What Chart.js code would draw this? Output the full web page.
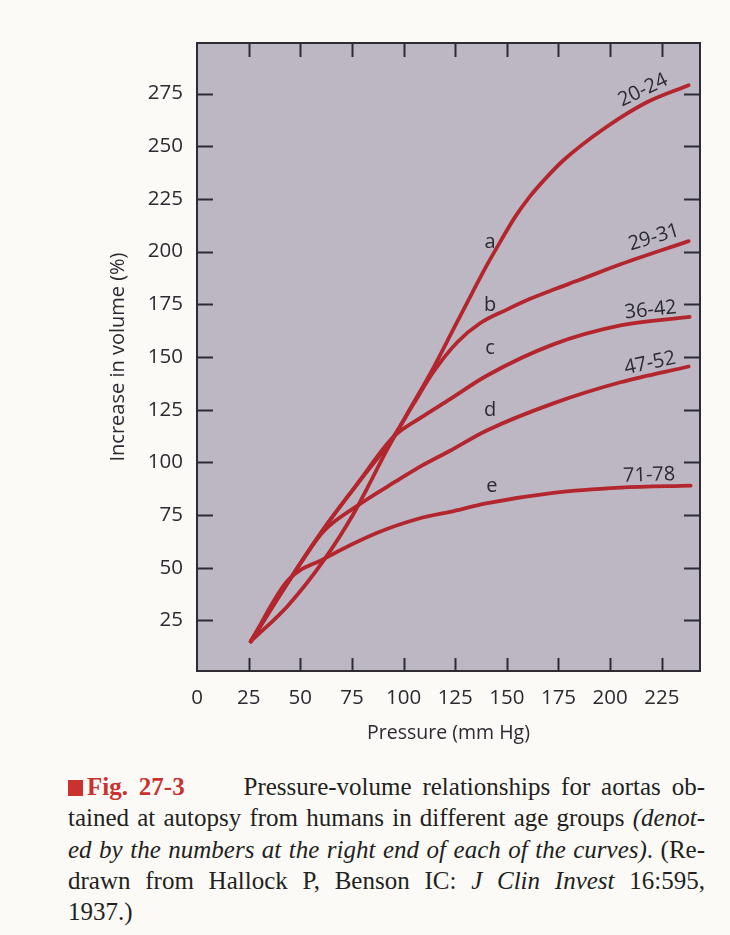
<!DOCTYPE html>
<html>
<head>
<meta charset="utf-8">
<script src="https://cdn.jsdelivr.net/npm/chart.js@4.4.1/dist/chart.umd.min.js"></script>
<style>
  html, body { margin: 0; padding: 0; background: #fbfaf7; }
  body { width: 730px; height: 935px; position: relative; overflow: hidden; }
  #aorta { position: absolute; left: 0; top: 0; }
  .caption {
    position: absolute; left: 68px; top: 771px; width: 637px;
    font-family: "Liberation Serif", "Times New Roman", serif;
    font-size: 25px; line-height: 31.3px; color: #231f20;
  }
  .caption div { text-align: justify; text-align-last: justify; }
  .caption div.last { text-align-last: left; }
  .caption .sq { display: inline-block; width: 15px; height: 16px; background: #c9322f; margin-right: 4px; vertical-align: -1px; }
  .caption .fig { color: #c9322f; font-weight: bold; margin-right: 48px; }
</style>
</head>
<body>
<canvas id="aorta" width="730" height="760"></canvas>
<div class="caption">
  <div><span class="sq"></span><span class="fig">Fig.&nbsp;27-3</span> Pressure-volume relationships for aortas ob-</div>
  <div>tained at autopsy from humans in different age groups <i>(denot-</i></div>
  <div><i>ed by the numbers at the right end of each of the curves)</i>. (Re-</div>
  <div>drawn from Hallock P, Benson IC: <i>J Clin Invest</i> 16:595,</div>
  <div class="last">1937.)</div>
</div>
<script>
// pressure (mm Hg) and % increase in volume for each age group
const pressure2024 = [26, 44, 61, 76, 82, 92, 102, 114.5, 124, 133, 140, 147, 154, 161, 169, 177, 198, 218, 238];
const volume2024 = [15, 32, 53, 76, 87, 106, 123.5, 145, 163, 180, 193, 205, 216.5, 226, 235, 243, 259, 271, 279];

const pressure2931 = [26, 44, 61, 77, 95, 105, 114.5, 126, 137, 150, 161, 174, 185, 205, 238];
const volume2931 = [15, 43, 68, 89, 112, 128, 143, 157, 166, 172.5, 177.5, 182.5, 186.5, 194, 205];

const pressure3642 = [26, 44, 61, 77, 95, 108, 122.5, 140, 172.5, 205, 238.5];
const volume3642 = [15, 43, 68, 89, 112, 121, 130, 141, 156, 165, 169];

const pressure4752 = [26, 44, 61, 77, 98, 108, 122.5, 140, 172.5, 205, 238];
const volume4752 = [15, 43, 67, 79, 92, 98, 105.5, 115, 128, 138, 145.5];

const pressure7178 = [26, 44, 61, 87, 108, 122.5, 140, 172.5, 205, 239];
const volume7178 = [15, 44, 54, 66.5, 73.5, 76.5, 80.5, 85.5, 88, 89];

const ageGroups = ["20-24", "29-31", "36-42", "47-52", "71-78"];
const curveLetters = ["a", "b", "c", "d", "e"];

const xTicks = [0, 25, 50, 75, 100, 125, 150, 175, 200, 225];
const yTicks = [25, 50, 75, 100, 125, 150, 175, 200, 225, 250, 275];

const series = [
  [pressure2024, volume2024],
  [pressure2931, volume2931],
  [pressure3642, volume3642],
  [pressure4752, volume4752],
  [pressure7178, volume7178],
];

const FONT = "'Open Sans', 'DejaVu Sans', sans-serif";
const INK = "#2c2931";
const CURVE = "#b3262d";

// where the age-group and letter labels sit, in data units, plus text angle
const endLabels = [
  { x: 215.9, y: 276.6, angle: -26 },
  { x: 221.2, y: 206.7, angle: -17 },
  { x: 219.6, y: 172.2, angle: -6 },
  { x: 219.3, y: 147.0, angle: -12 },
  { x: 218.9, y: 93.9, angle: -2 },
];
const letterSpots = [
  { x: 141.9, y: 204.2 },
  { x: 141.9, y: 174.6 },
  { x: 141.9, y: 154.1 },
  { x: 141.9, y: 124.8 },
  { x: 142.7, y: 88.8 },
];

const datasets = series.map(([px, vy], i) => ({
  label: ageGroups[i],
  data: px.map((p, k) => ({ x: p, y: vy[k] })),
  borderColor: CURVE,
  borderWidth: 3.8,
  borderCapStyle: "round",
  borderJoinStyle: "round",
  pointRadius: 0,
  cubicInterpolationMode: "monotone",
  fill: false,
}));

// plot background, boxed frame with inward ticks, curve labels
const framePlugin = {
  id: "frame",
  beforeDatasetsDraw(chart) {
    const { ctx, chartArea: a } = chart;
    ctx.save();
    ctx.fillStyle = "#bdb7c4";
    ctx.fillRect(a.left, a.top, a.right - a.left, a.bottom - a.top);
    ctx.restore();
  },
  afterDatasetsDraw(chart) {
    const { ctx, chartArea: a, scales } = chart;
    ctx.save();
    ctx.strokeStyle = "#2e2b33";
    ctx.lineWidth = 2;
    ctx.strokeRect(a.left, a.top, a.right - a.left, a.bottom - a.top);
    ctx.beginPath();
    xTicks.filter((v) => v > 0).forEach((v) => {
      const x = Math.round(scales.x.getPixelForValue(v)) + 0.5;
      ctx.moveTo(x, a.bottom);
      ctx.lineTo(x, a.bottom - 13);
      ctx.moveTo(x, a.top);
      ctx.lineTo(x, a.top + 14);
    });
    yTicks.forEach((v) => {
      const y = Math.round(scales.y.getPixelForValue(v)) + 0.5;
      ctx.moveTo(a.left, y);
      ctx.lineTo(a.left + 16, y);
      ctx.moveTo(a.right, y);
      ctx.lineTo(a.right - 16, y);
    });
    ctx.stroke();

    ctx.fillStyle = INK;
    ctx.textAlign = "center";
    ctx.textBaseline = "middle";
    ctx.font = "20px " + FONT;
    endLabels.forEach((l, i) => {
      ctx.save();
      ctx.translate(scales.x.getPixelForValue(l.x), scales.y.getPixelForValue(l.y));
      ctx.rotate((l.angle * Math.PI) / 180);
      ctx.fillText(ageGroups[i], 0, 0);
      ctx.restore();
    });
    letterSpots.forEach((l, i) => {
      ctx.fillText(curveLetters[i], scales.x.getPixelForValue(l.x), scales.y.getPixelForValue(l.y));
    });
    ctx.restore();
  },
};

new Chart(document.getElementById("aorta"), {
  type: "line",
  data: { datasets },
  plugins: [framePlugin],
  options: {
    responsive: false,
    animation: false,
    devicePixelRatio: 1,
    layout: { padding: { left: 102, right: 30, top: 43, bottom: 11 } },
    plugins: { legend: { display: false }, tooltip: { enabled: false } },
    scales: {
      x: {
        type: "linear",
        min: 0,
        max: 243.5,
        grid: { display: false, drawTicks: false },
        border: { display: false },
        afterBuildTicks: (s) => { s.ticks = xTicks.map((v) => ({ value: v })); },
        afterFit: (s) => { s.height = 78; },
        ticks: { color: INK, padding: 15, maxRotation: 0, font: { family: FONT, size: 20.5 } },
        title: { display: true, text: "Pressure (mm Hg)", color: INK, font: { family: FONT, size: 19.5 } },
      },
      y: {
        min: 1,
        max: 299,
        grid: { display: false, drawTicks: false },
        border: { display: false },
        afterBuildTicks: (s) => { s.ticks = yTicks.map((v) => ({ value: v })); },
        afterFit: (s) => { s.width = 95; },
        ticks: { color: INK, padding: 14, font: { family: FONT, size: 20.5 } },
        title: { display: true, text: "Increase in volume (%)", color: INK, font: { family: FONT, size: 20 } },
      },
    },
  },
});
</script>
</body>
</html>
